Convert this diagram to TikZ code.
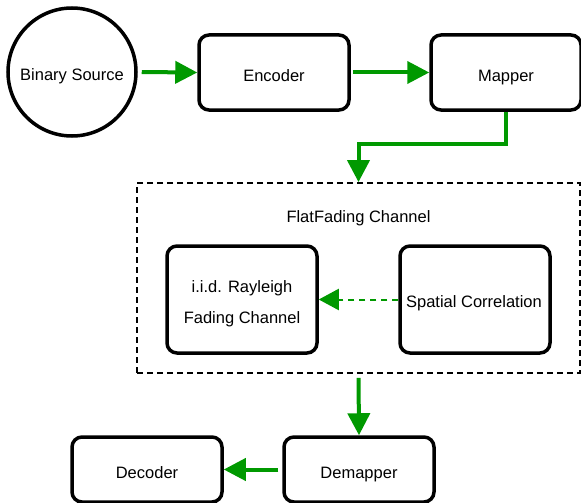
\documentclass[tikz,border=0pt]{standalone}
\usepackage{fontspec}
\setmainfont{Liberation Sans}
\usetikzlibrary{arrows.meta}
\definecolor{flowgreen}{RGB}{0,153,0}
\tikzset{
  block/.style={draw,line width=3.5pt,rounded corners=10pt,fill=white,
    minimum width=150pt,minimum height=75pt,inner sep=0pt,align=center,
    text height=18pt,text depth=0pt},
  source/.style={draw,circle,line width=3.5pt,minimum size=128pt,inner sep=0pt,
    text height=18pt,text depth=0pt},
  flow/.style={draw=flowgreen,line width=4pt,
    -{Triangle[length=22pt,width=22pt,fill=flowgreen]}},
  hint/.style={draw=flowgreen,line width=2pt,dash pattern=on 6pt off 5pt,
    -{Triangle[length=20pt,width=21pt,fill=flowgreen]}},
  channelbox/.style={draw,line width=1.8pt,dash pattern=on 6pt off 4pt,
    minimum width=443pt,minimum height=190pt},
}
\begin{document}
\begin{tikzpicture}[x=1pt,y=-1pt,font=\fontsize{16.5}{20}\selectfont]
      \useasboundingbox (0,0) rectangle (581,503);
      \draw
        (358.5,278) node[channelbox] (chan){}
        (358.5,218) node (lbl){FlatFading Channel}
        (72,72) node[source] (bin){Binary Source}
        (274,72.5) node[block] (enc){Encoder}
        (506,72.5) node[block] (map){Mapper}
        (242,299.5) node[block,minimum height=107pt] (ray){}
        (242,304) node[align=center,font=\fontsize{16.5}{31}\selectfont] (raytxt){i.i.d. Rayleigh\\Fading Channel}
        (475,299.5) node[block,minimum height=107pt] (corr){}
        (474,303) node (corrtxt){Spatial Correlation}
        (359,469.5) node[block,minimum height=65pt] (demap){Demapper}
        (147,469.5) node[block,minimum height=65pt] (dec){Decoder};
      \begin{scope}
        \draw[flow,shorten <=4pt] (bin.east) -- (enc.west);
        \draw[flow,shorten <=2pt] (enc.east) -- (map.west);
        \draw[flow] (map.south) -- ++(0,32) -| (chan.north);
        \draw[hint] (corr.west) -- (ray.east);
        \draw[flow,shorten <=4pt] (chan.south) -- (demap.north);
        \draw[flow,shorten <=4pt] (demap.west) -- (dec.east);
      \end{scope}
    \end{tikzpicture}
\end{document}
